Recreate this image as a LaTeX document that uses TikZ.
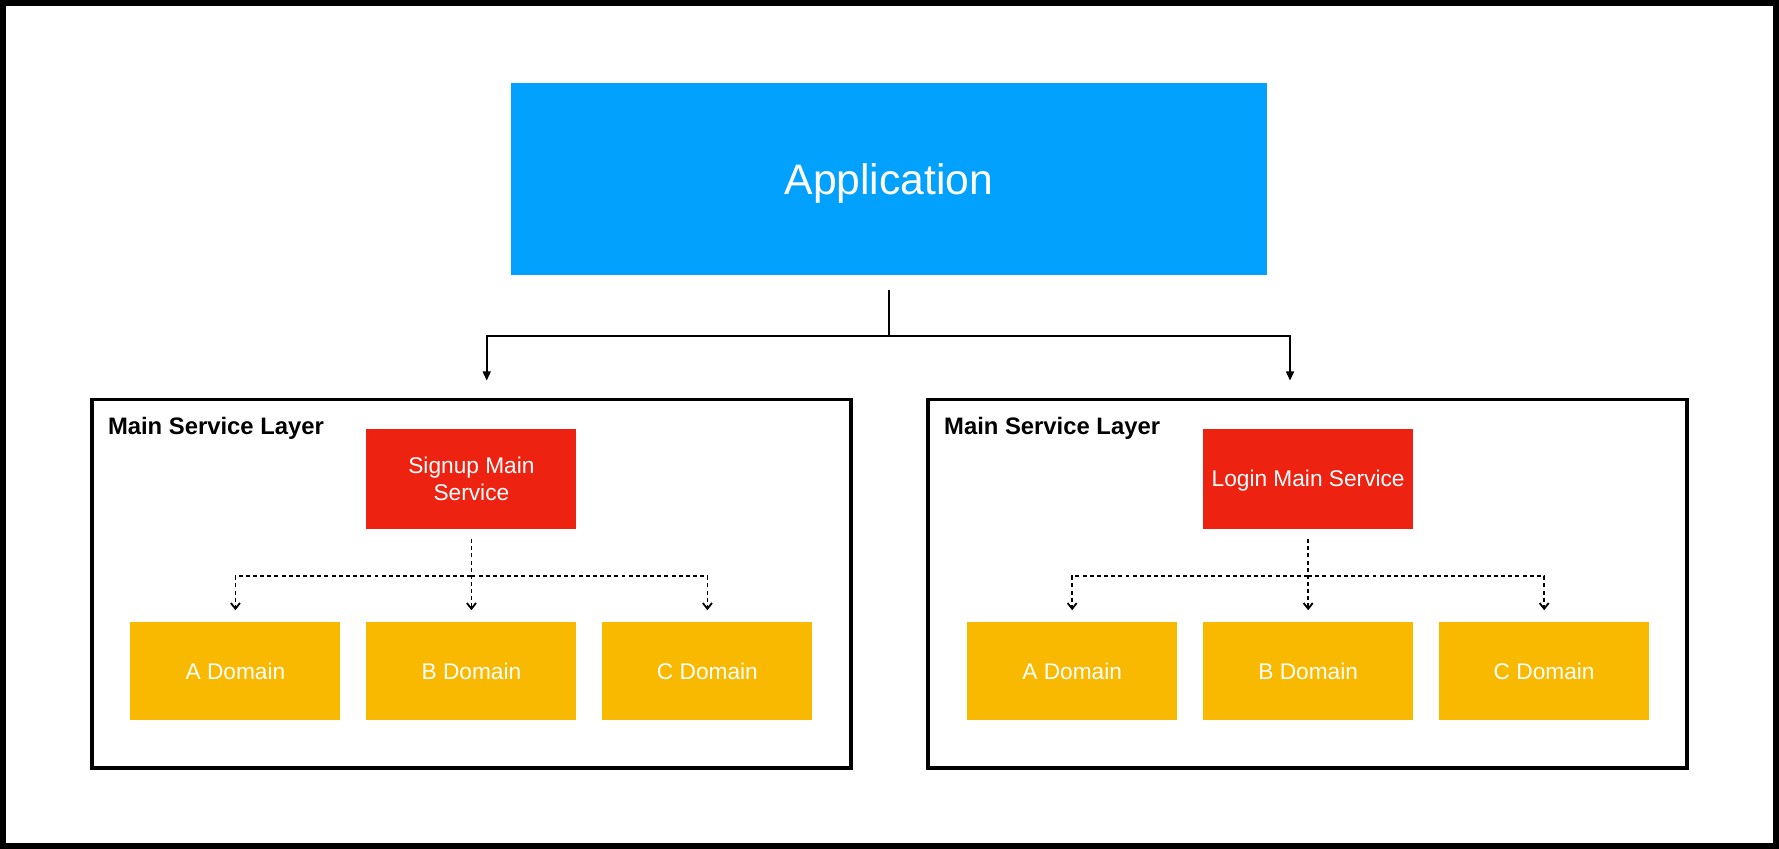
\documentclass[tikz,border=0pt]{standalone}
\usepackage{fontspec}
\setmainfont{Liberation Sans}
\usetikzlibrary{positioning}
\usetikzlibrary{arrows.meta}

\definecolor{appblue}{RGB}{3,161,254}
\definecolor{svcred}{RGB}{238,34,17}
\definecolor{domyellow}{RGB}{248,185,0}

\begin{document}
\begin{tikzpicture}[x=1pt,y=-1pt,on grid,%
  appbox/.style={fill=appblue,minimum width=667pt,minimum height=169pt,%
  text=white,text height=27pt,text depth=0pt,font=\fontsize{37.6}{45}\selectfont},%
  layerbox/.style={draw=black,line width=3.2pt,minimum width=669pt,minimum height=325pt},%
  layertitle/.style={font=\fontsize{21}{25}\selectfont\bfseries,inner sep=0pt},%
  svcbox/.style={fill=svcred,minimum width=185pt,minimum height=88pt,%
  text=white,align=center,font=\fontsize{20}{24}\selectfont},%
  domainbox/.style={fill=domyellow,minimum width=185pt,minimum height=87pt,%
  text=white,text height=14.4pt,text depth=0pt,font=\fontsize{20}{24}\selectfont},%
  link/.style={line width=1.5pt},%
  dlink/.style={line width=1.6pt,dash pattern=on 3.5pt off 2.8pt,%
  -{Straight Barb[length=5pt,width=8pt]},shorten >=10pt}]
  \useasboundingbox (0,0) rectangle (1568,748);
  \draw[line width=5.3pt] (2.65,2.65) rectangle (1565.35,745.35);

  \node[appbox]   (app)  at (783.5,157.5) {Application};
  \node[layerbox] (lay1) at (415.5,514.5) {};
  \node[layerbox] (lay2) at (1152.5,514.5) {};
  \node[layertitle,anchor=base west] (t1) at (95,383)  {Main Service Layer};
  \node[layertitle,anchor=base west] (t2) at (832,383) {Main Service Layer};

  \node[svcbox]    (sm) at (415.5,422)         {Signup Main\\Service};
  \node[domainbox] (sb) [below = 169.5pt of sm] {B Domain};
  \node[domainbox] (sa) [left = 208pt of sb]    {A Domain};
  \node[domainbox] (sc) [right = 208pt of sb]   {C Domain};

  \node[svcbox,text height=14.4pt,text depth=0pt] (lm) at (1153,422) {Login Main Service};
  \node[domainbox] (lb) [below = 169.5pt of lm] {B Domain};
  \node[domainbox] (la) [left = 208pt of lb]    {A Domain};
  \node[domainbox] (lc) [right = 208pt of lb]   {C Domain};

  \coordinate (fork) at (783.5,296);
  \coordinate (sj)   at (415.5,508);
  \coordinate (lj)   at (1153,508);

  \draw[link,shorten <=13pt] (app) -- (fork);
  \path[link,-{Triangle[length=8pt,width=7pt]},shorten >=15pt]
    (fork) edge[to path={-| (\tikztotarget)}] ([xshift=13.5pt]lay1.north)
           edge[to path={-| (\tikztotarget)}] ([xshift=-15.5pt]lay2.north);

  \draw[dlink,shorten <=9pt] (sm) -- (sb);
  \draw[dlink] (sj) -| (sa);
  \draw[dlink] (sj) -| (sc);
  \draw[dlink,shorten <=9pt] (lm) -- (lb);
  \draw[dlink] (lj) -| (la);
  \draw[dlink] (lj) -| (lc);
\end{tikzpicture}
\end{document}
